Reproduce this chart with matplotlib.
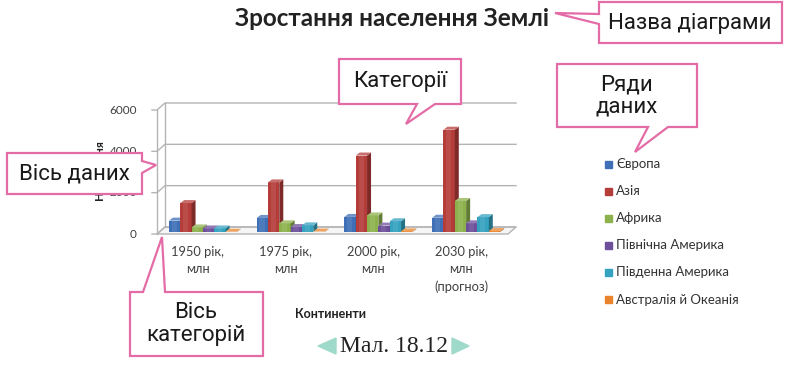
import matplotlib

matplotlib.use("Agg")
import matplotlib.pyplot as plt
import numpy as np
from matplotlib.patches import Polygon
from matplotlib.transforms import offset_copy

# data (population, millions)
categories = ["1950 рік,\nмлн", "1975 рік,\nмлн", "2000 рік,\nмлн", "2030 рік,\nмлн\n(прогноз)"]
series_names = ["Європа", "Азія", "Африка", "Північна Америка", "Південна Америка",
                "Австралія й Океанія"]
europe = [550, 680, 730, 690]
asia = [1400, 2400, 3700, 4950]
africa = [220, 420, 800, 1500]
north_america = [170, 240, 310, 420]
south_america = [170, 320, 520, 720]
oceania = [13, 21, 31, 45]
y_ticks = [0, 2000, 4000, 6000]

series = [europe, asia, africa, north_america, south_america, oceania]
colors = ["#3f6fb6", "#b43c39", "#8db14c", "#6d4f9b", "#35a2c0", "#ea842c"]

W, H = 800, 369
fig = plt.figure(figsize=(W / 100, H / 100), dpi=100)

# chart area (front plane of the 3D box)
x0_px, x1_px, y0_px, y1_px = 157, 508, 234, 110
ax = fig.add_axes([x0_px / W, 1 - y0_px / H, (x1_px - x0_px) / W, (y0_px - y1_px) / H])
ax.set_xlim(-0.5, len(categories) - 0.5)
ax.set_ylim(0, 6000)
ax.axis("off")

px_x = len(categories) / (x1_px - x0_px)   # data units per pixel
px_y = 6000 / (y0_px - y1_px)

grid_c = "#b4b4b4"
fdx, fdy = 8 * px_x, 7 * px_y   # wall depth
xa, xb = ax.get_xlim()

# floor
floor = Polygon([(xa, 0), (xb, 0), (xb + fdx, fdy), (xa + fdx, fdy)], closed=True,
                facecolor="#f6f6f6", edgecolor=grid_c, lw=1, clip_on=False, zorder=1)
ax.add_patch(floor)
# walls / gridlines
ax.plot([xa, xa], [0, 6000], color=grid_c, lw=1, clip_on=False, zorder=1)
ax.plot([xa + fdx, xa + fdx], [fdy, 6000 + fdy], color=grid_c, lw=1, clip_on=False, zorder=1)
for v in y_ticks:
    ax.plot([xa - 5 * px_x, xa, xa + fdx, xb + fdx], [v, v, v + fdy, v + fdy],
            color=grid_c, lw=1, clip_on=False, zorder=1)
    ax.text(xa - 20 * px_x, v, str(v), ha="right", va="center", fontsize=8.5,
            family="Lato", color="#404040")

# bars with a bit of depth
n = len(series)
group_w = 0.775
bw = group_w / n
bdx, bdy = 4 * px_x, 3 * px_y
tr = offset_copy(ax.transData, fig=fig, x=2, y=2, units="dots")
xs = np.arange(len(categories))


def shade(c, f):
    rgb = np.array(matplotlib.colors.to_rgb(c))
    return tuple(np.clip(rgb * f, 0, 1)) if f < 1 else tuple(rgb + (1 - rgb) * (f - 1))


for i, (vals, c) in enumerate(zip(series, colors)):
    left = xs - group_w / 2 + i * bw
    ax.bar(left, vals, width=bw, align="edge", color=c, transform=tr, zorder=3 + i,
           clip_on=False, label=series_names[i])
    # soft highlight on the front face
    ax.bar(left + bw * 0.25, vals, width=bw * 0.45, align="edge", color=shade(c, 1.08),
           transform=tr, zorder=3 + i, clip_on=False)
    for lx, h in zip(left, vals):
        rx = lx + bw
        side = Polygon([(rx, 0), (rx + bdx, bdy), (rx + bdx, h + bdy), (rx, h)],
                       closed=True, facecolor=shade(c, 0.7), edgecolor="none",
                       transform=tr, zorder=3 + i, clip_on=False)
        top = Polygon([(lx, h), (rx, h), (rx + bdx, h + bdy), (lx + bdx, h + bdy)],
                      closed=True, facecolor=shade(c, 1.25), edgecolor="none",
                      transform=tr, zorder=3 + i, clip_on=False)
        ax.add_patch(side)
        ax.add_patch(top)

# category labels
for x, lab in zip(xs, categories):
    ax.text(x - 3 * px_x, -12 * px_y, lab, ha="center", va="top", fontsize=9.3,
            family="Lato", color="#404040", linespacing=1.5)

# overlay in pixel coordinates for titles, legend and callouts
ov = fig.add_axes([0, 0, 1, 1])
ov.set_xlim(0, W)
ov.set_ylim(H, 0)
ov.axis("off")
ov.patch.set_alpha(0)

ov.text(392, 18, "Зростання населення Землі", ha="center", va="center",
        fontsize=17.5, fontweight="bold", family="Lato", color="#222222")
ov.text(330, 314, "Континенти", ha="center", va="center", fontsize=9,
        fontweight="bold", family="Lato", color="#222222")
ov.text(99, 170, "Населення", ha="center", va="center", rotation=90, fontsize=8.5,
        fontweight="bold", family="Lato", color="#222222")

# legend
for k, (name, c) in enumerate(zip(series_names, colors)):
    y = 164 + k * 27.1
    ov.add_patch(plt.Rectangle((605, y - 3.5), 7, 7, color=c, zorder=5))
    ov.text(616, y, name, ha="left", va="center", fontsize=9.5, family="Lato",
            color="#333333")

# callouts
pink = "#e46ca6"
callouts = [
    ([(599, 2), (782, 2), (782, 43), (599, 43), (599, 24), (555, 13), (599, 14)],
     (690, 23), "Назва діаграми"),
    ([(339, 59), (461, 59), (461, 104), (435, 104), (406, 124), (417, 104), (339, 104)],
     (400, 81), "Категорії"),
    ([(557, 64), (697, 64), (697, 127), (668, 127), (635, 152), (648, 127), (557, 127)],
     (627, 96), "Ряди\nданих"),
    ([(7, 153), (142, 153), (142, 161), (156, 165), (142, 173), (142, 194), (7, 194)],
     (74, 174), "Вісь даних"),
    ([(130, 292), (143, 292), (162, 237), (165, 292), (263, 292), (263, 356), (130, 356)],
     (196, 324), "Вісь\nкатегорій"),
]
for verts, (tx, ty), txt in callouts:
    ov.add_patch(Polygon(verts, closed=True, facecolor="white", edgecolor=pink, lw=1.6,
                         zorder=10))
    ov.text(tx, ty, txt, ha="center", va="center", fontsize=16, family="Roboto",
            color="#1a1a1a", zorder=11, linespacing=1.1)

# figure caption
teal = "#9fd9c9"
ov.add_patch(Polygon([(318, 346), (336, 338), (336, 354)], closed=True, color=teal))
ov.add_patch(Polygon([(469, 346), (452, 338), (452, 354)], closed=True, color=teal))
ov.text(394, 346, "Мал. 18.12", ha="center", va="center", fontsize=17,
        family="Liberation Serif", color="#222222")

fig.savefig("out.png", dpi=100)
